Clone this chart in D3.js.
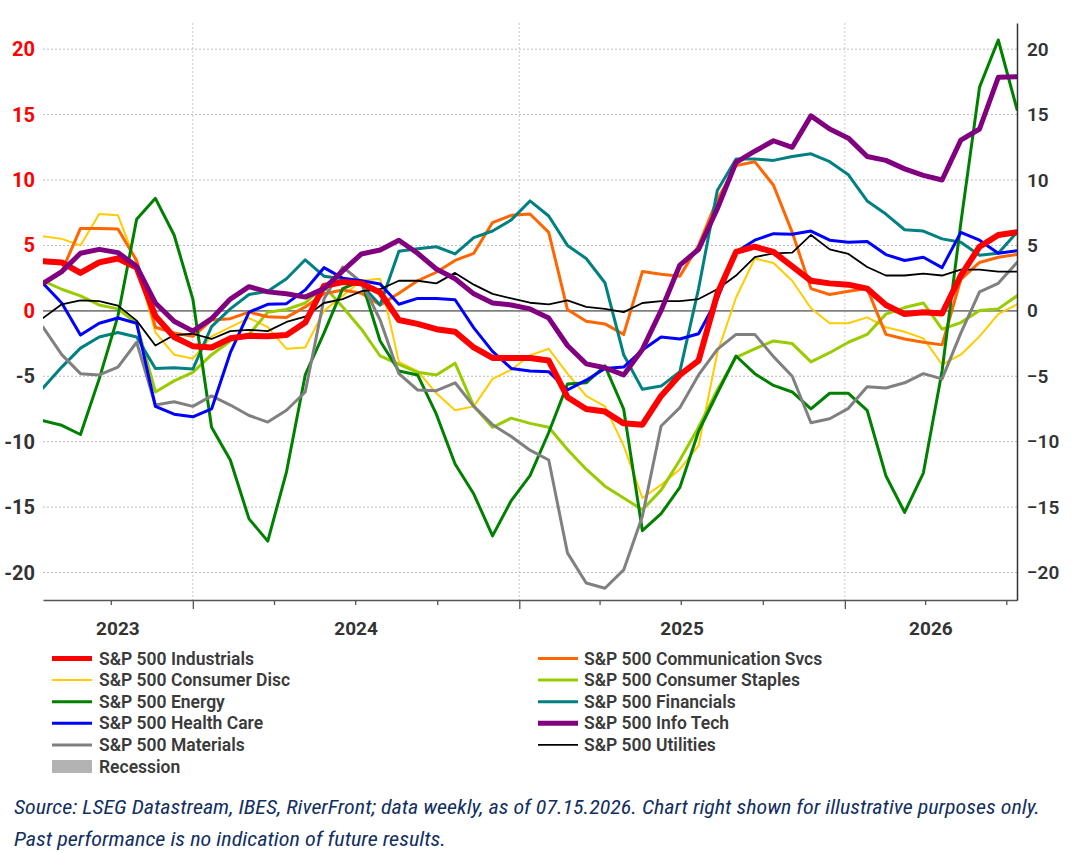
<!DOCTYPE html>
<html><head><meta charset="utf-8">
<script src="https://cdn.jsdelivr.net/npm/d3@7/dist/d3.min.js"></script>
<style>body{margin:0;background:#fff}svg{display:block}</style>
</head><body>
<svg id="c" width="1077" height="853"></svg>
<script>
// ---- data (3-weekly samples) ----
const startDate = "2023-07-17";
const stepDays = 21;
const nPoints = 53;
const yTicks = [-20,-15,-10,-5,0,5,10,15,20];
const yearLabels = ["2023","2024","2025","2026"];

const industrials = [3.8,3.7,2.9,3.7,4.0,3.3,-0.4,-2.0,-2.7,-2.8,-2.1,-1.9,-1.95,-1.85,-0.9,1.9,2.2,2.1,1.4,-0.7,-1.0,-1.4,-1.6,-2.8,-3.6,-3.6,-3.6,-3.8,-6.6,-7.5,-7.7,-8.6,-8.7,-6.5,-4.9,-3.8,1.3,4.5,4.9,4.5,3.4,2.3,2.1,2.0,1.7,0.45,-0.25,-0.1,-0.2,2.7,4.9,5.8,6.0];
const commSvcs = [2.0,3.0,6.3,6.3,6.25,3.85,-1.25,-1.7,-1.95,-0.7,-0.6,-0.1,-0.45,-0.5,0.3,1.3,1.6,1.35,0.45,1.35,2.3,2.95,3.85,4.4,6.75,7.3,7.4,6.0,0.1,-0.8,-1.0,-1.8,3.0,2.8,2.65,5.0,8.5,11.1,11.4,9.6,6.0,1.7,1.25,1.5,1.7,-1.8,-2.15,-2.4,-2.6,2.4,3.7,4.1,4.3];
const consDisc = [5.7,5.5,5.0,7.4,7.3,3.6,-1.65,-3.35,-3.65,-1.95,-1.25,-0.55,-1.25,-2.9,-2.8,0.0,1.15,2.3,2.45,-3.9,-4.6,-6.3,-7.6,-7.3,-5.2,-4.5,-3.4,-2.9,-4.8,-6.5,-7.3,-10.3,-14.3,-13.3,-12.1,-10.3,-3.2,1.0,4.0,3.65,2.3,0.2,-0.95,-0.95,-0.5,-1.25,-1.6,-2.1,-4.1,-3.35,-1.95,-0.25,0.5];
const consStaples = [2.3,1.65,1.15,0.45,0.15,-0.95,-6.2,-5.35,-4.7,-3.35,-2.3,-1.8,-0.1,0.1,0.6,1.9,0.3,-1.4,-3.45,-4.1,-4.7,-4.9,-4.0,-7.3,-8.9,-8.2,-8.6,-8.9,-10.6,-12.1,-13.4,-14.3,-15.2,-13.7,-11.4,-8.9,-6.05,-3.55,-2.9,-2.3,-2.5,-3.9,-3.2,-2.4,-1.8,-0.25,0.25,0.6,-1.4,-0.9,0.03,0.15,1.15];
const energy = [-8.4,-8.75,-9.45,-5.2,-0.4,7.0,8.6,5.8,0.9,-8.9,-11.4,-15.9,-17.6,-12.3,-4.9,-1.7,1.7,2.3,-2.3,-4.6,-4.9,-7.9,-11.7,-14.0,-17.2,-14.5,-12.6,-9.3,-5.6,-5.5,-4.2,-7.5,-16.8,-15.5,-13.5,-9.2,-6.3,-3.45,-4.8,-5.7,-6.2,-7.5,-6.3,-6.3,-7.6,-12.6,-15.4,-12.4,-4.6,6.7,17.1,20.7,15.4];
const financials = [-5.9,-4.3,-2.85,-2.0,-1.65,-2.0,-4.4,-4.35,-4.45,-1.2,0.15,1.25,1.5,2.45,3.9,2.65,2.45,2.0,0.45,4.55,4.75,4.9,4.35,5.6,6.1,6.95,8.4,7.25,5.0,4.0,2.15,-3.35,-6.0,-5.75,-4.65,1.7,9.2,11.6,11.6,11.5,11.8,12.0,11.4,10.4,8.4,7.4,6.2,6.1,5.5,5.25,4.25,4.4,6.0];
const healthCare = [2.1,0.6,-1.85,-0.95,-0.55,-0.95,-7.3,-7.9,-8.1,-7.5,-3.2,-0.1,0.5,0.55,1.6,3.3,2.5,2.3,2.05,0.5,0.95,0.95,0.85,-1.3,-3.1,-4.4,-4.6,-4.65,-6.05,-5.3,-4.4,-4.3,-3.0,-2.0,-2.15,-1.75,0.9,4.5,5.4,5.9,5.85,6.1,5.4,5.25,5.3,4.3,3.85,4.1,3.3,6.0,5.4,4.4,4.6];
const infoTech = [2.1,3.0,4.4,4.7,4.45,3.4,0.6,-0.8,-1.55,-0.6,0.9,1.85,1.45,1.3,1.05,1.7,3.05,4.35,4.65,5.4,4.4,3.2,2.45,1.3,0.6,0.45,0.15,-0.55,-2.65,-4.05,-4.35,-4.9,-2.95,0.03,3.5,4.7,7.8,11.35,12.2,13.0,12.5,14.9,13.9,13.2,11.8,11.5,10.85,10.35,10.0,13.05,13.9,17.85,17.9];
const materials = [-1.25,-3.35,-4.8,-4.9,-4.3,-2.4,-7.2,-6.95,-7.3,-6.5,-7.2,-8.0,-8.5,-7.6,-6.2,0.9,3.35,2.2,-0.7,-4.8,-6.05,-6.1,-5.5,-7.3,-8.7,-9.6,-10.65,-11.4,-18.5,-20.8,-21.2,-19.8,-15.7,-8.8,-7.4,-4.9,-2.95,-1.8,-1.8,-3.5,-5.0,-8.55,-8.25,-7.45,-5.8,-5.9,-5.5,-4.8,-5.2,-1.7,1.45,2.1,3.7];
const utilities = [-0.55,0.5,0.8,0.75,0.4,-0.75,-2.65,-1.85,-1.75,-2.15,-1.55,-1.45,-1.55,-0.85,-0.45,0.6,0.9,1.5,1.65,2.3,2.3,2.1,2.9,2.0,1.3,0.95,0.62,0.5,0.8,0.3,0.15,-0.1,0.6,0.75,0.75,0.9,1.65,2.7,4.1,4.4,4.45,5.8,4.7,4.35,3.35,2.7,2.7,2.85,2.7,3.15,3.15,3.0,3.0];

const seriesNames = ["S&P 500 Industrials","S&P 500 Communication Svcs","S&P 500 Consumer Disc","S&P 500 Consumer Staples","S&P 500 Energy","S&P 500 Financials","S&P 500 Health Care","S&P 500 Info Tech","S&P 500 Materials","S&P 500 Utilities"];
const seriesValues = [industrials,commSvcs,consDisc,consStaples,energy,financials,healthCare,infoTech,materials,utilities];
const seriesColors = ["#ff0000","#ff6600","#ffcc00","#99cc00","#008000","#008080","#0000ff","#800080","#808080","#000000"];
const seriesWidths = [6,3,2,3,3,3,3,5,3,1.8];
// draw order (bottom to top)
const drawOrder = [2,3,1,5,4,8,6,9,0,7];
// legend layout: left column then right column
const legendLeft = [0,2,4,6,8];
const legendRight = [1,3,5,7,9];

// ---- build ----
const svg = d3.select("#c");
const parse = d3.utcParse("%Y-%m-%d");
const t0 = parse(startDate);
const dates = d3.range(nPoints).map(i => d3.utcDay.offset(t0, i*stepDays));

const L = 43, R = 1017, T = 23, B = 600;
const x = d3.scaleUtc().domain([dates[0], dates[dates.length-1]]).range([L, R]);
const y = d3.scaleLinear().domain([-22.1, 22.0]).range([B, T]);

const font = "Roboto, 'Noto Sans', sans-serif";

// grid
const g = svg.append("g");
g.selectAll(".hg").data(yTicks.filter(v => v !== 0)).join("line")
  .attr("x1", L).attr("x2", R).attr("y1", d => y(d)).attr("y2", d => y(d))
  .attr("stroke", "#bdbdbd").attr("stroke-width", 1).attr("stroke-dasharray", "2,2");
const yearStarts = [2024, 2025, 2026].map(yr => new Date(Date.UTC(yr, 0, 1)));
g.selectAll(".vg").data(yearStarts).join("line")
  .attr("x1", d => x(d)).attr("x2", d => x(d)).attr("y1", T).attr("y2", B)
  .attr("stroke", "#c8c8c8").attr("stroke-width", 1).attr("stroke-dasharray", "2,2");

// zero line
g.append("line").attr("x1", L).attr("x2", R).attr("y1", y(0)).attr("y2", y(0))
  .attr("stroke", "#808080").attr("stroke-width", 1.6);

// lines
svg.append("clipPath").attr("id", "clip").append("rect")
  .attr("x", L).attr("y", T - 5).attr("width", R - L).attr("height", B - T + 5);
const line = d3.line().x((d, i) => x(dates[i])).y(d => y(d)).curve(d3.curveLinear);
const lg = svg.append("g").attr("clip-path", "url(#clip)");
drawOrder.forEach(k => {
  lg.append("path").datum(seriesValues[k]).attr("d", line)
    .attr("fill", "none").attr("stroke", seriesColors[k]).attr("stroke-width", seriesWidths[k])
    .attr("stroke-linejoin", "round").attr("stroke-linecap", "round");
});

// bottom axis
const quarterTicks = d3.utcMonth.every(3).range(dates[0], d3.utcDay.offset(dates[dates.length-1], 1));
const xAxis = d3.axisBottom(x).tickValues(quarterTicks).tickFormat("")
  .tickSizeInner(5).tickSizeOuter(0);
const ax = svg.append("g").attr("transform", `translate(0,${B})`).call(xAxis);
ax.select(".domain").attr("stroke", "#555").attr("stroke-width", 1.5);
ax.selectAll(".tick line").attr("stroke", "#555").attr("stroke-width", 1.3)
  .attr("y2", d => d.getUTCMonth() === 0 ? 9 : 5);
// year labels centered on visible part of each year
const yearRanges = yearLabels.map(lbl => {
  const a = new Date(Date.UTC(+lbl, 0, 1)), b = new Date(Date.UTC(+lbl + 1, 0, 1));
  const xa = Math.max(L, x(a)), xb = Math.min(R, x(b));
  return {lbl, cx: (xa + xb) / 2};
});
svg.selectAll(".yl").data(yearRanges).join("text")
  .attr("x", d => d.cx).attr("y", 635).attr("text-anchor", "middle")
  .attr("font-family", font).attr("font-weight", 700).attr("font-size", 19)
  .attr("fill", "#333").text(d => d.lbl);

// left axis labels
svg.selectAll(".lt").data(yTicks).join("text")
  .attr("x", 35).attr("y", d => y(d) + 7).attr("text-anchor", "end")
  .attr("font-family", font).attr("font-weight", 700).attr("font-size", 20)
  .attr("fill", d => d >= 0 ? "#ff0000" : "#333").text(d => d);

// right axis
const yAxisR = d3.axisRight(y).tickValues(yTicks).tickSize(0).tickPadding(10);
const ar = svg.append("g").attr("transform", `translate(${R},0)`).call(yAxisR);
ar.select(".domain").attr("stroke", "#333").attr("stroke-width", 1.5);
ar.selectAll(".tick text").attr("font-family", font).attr("font-weight", 600)
  .attr("font-size", 19).attr("fill", "#333");

// legend
const legY0 = 658.5, legDY = 21.6;
function legendItem(k, col, row) {
  const sx = col === 0 ? 52 : 538, tx = col === 0 ? 99 : 584;
  const cy = legY0 + row * legDY;
  svg.append("line").attr("x1", sx).attr("x2", sx + 40).attr("y1", cy).attr("y2", cy)
    .attr("stroke", seriesColors[k]).attr("stroke-width", Math.min(seriesWidths[k], 5));
  svg.append("text").attr("x", tx).attr("y", cy + 6)
    .attr("font-family", font).attr("font-weight", 600).attr("font-size", 17.5)
    .attr("fill", "#3a3a3a").text(seriesNames[k]);
}
legendLeft.forEach((k, r) => legendItem(k, 0, r));
legendRight.forEach((k, r) => legendItem(k, 1, r));
// recession swatch
const ry = legY0 + 5 * legDY;
svg.append("rect").attr("x", 52).attr("y", ry - 6.5).attr("width", 40).attr("height", 13).attr("fill", "#b3b3b3");
svg.append("text").attr("x", 99).attr("y", ry + 6)
  .attr("font-family", font).attr("font-weight", 600).attr("font-size", 17.5)
  .attr("fill", "#3a3a3a").text("Recession");

// source
const srcFont = "'Liberation Sans Narrow', 'Roboto Condensed', Roboto, sans-serif";
svg.append("text").attr("x", 14).attr("y", 814)
  .attr("font-family", srcFont).attr("font-style", "italic").attr("font-size", 20)
  .attr("fill", "#12305f").attr("textLength", 1026).attr("lengthAdjust", "spacingAndGlyphs")
  .text("Source: LSEG Datastream, IBES, RiverFront; data weekly, as of 07.15.2026. Chart right shown for illustrative purposes only.");
svg.append("text").attr("x", 14).attr("y", 846)
  .attr("font-family", srcFont).attr("font-style", "italic").attr("font-size", 20)
  .attr("fill", "#12305f").attr("textLength", 432).attr("lengthAdjust", "spacingAndGlyphs")
  .text("Past performance is no indication of future results.");
</script>
</body></html>
